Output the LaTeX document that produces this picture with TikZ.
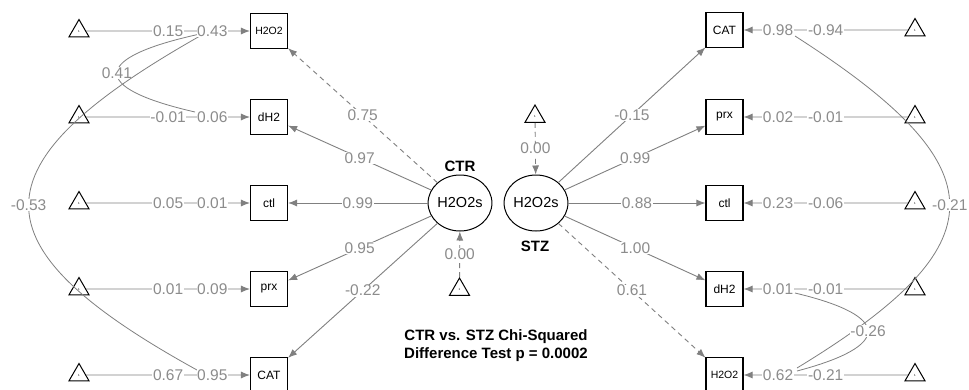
\documentclass[tikz,border=0pt]{standalone}
\usepackage{fontspec}
\setmainfont{Liberation Sans}
\usetikzlibrary{arrows.meta,shapes.geometric}
\definecolor{edgecol}{RGB}{128,128,128}
\definecolor{labcol}{RGB}{140,140,140}
\tikzset{
 box/.style={draw=black,line width=1.1pt,minimum width=37pt,minimum height=35pt,inner sep=0pt,font=\fontsize{12}{12}\selectfont},
 smallbox/.style={box,font=\fontsize{10.5}{10.5}\selectfont},
 latent/.style={draw=black,line width=1pt,ellipse,minimum width=60pt,minimum height=56pt,inner sep=0pt,font=\fontsize{14.5}{14.5}\selectfont},
 tri/.style={draw=black,line width=1pt,regular polygon,regular polygon sides=3,minimum size=23pt,inner sep=0pt,font=\fontsize{3}{3}\selectfont},
 lab/.style={fill=white,inner sep=0.6pt,text=labcol,font=\fontsize{15.5}{15.5}\selectfont},
 edgeline/.style={draw=edgecol,line width=0.9pt,-{Latex[length=9pt,width=7pt]}},
 dashedge/.style={edgeline,dash pattern=on 5pt off 4pt},
 cov/.style={draw=edgecol,line width=0.8pt},
 grp/.style={font=\bfseries\fontsize{15}{15}\selectfont}
}
\begin{document}
\begin{tikzpicture}[x=1pt,y=-1pt]
\useasboundingbox[fill=white] (0,0) rectangle (969,389);
% left side
\node[smallbox] (H2O2L) at (269,31) {H2O2};
\node[box] (dH2L) at (269,117) {dH2};
\node[box] (ctlL) at (269,203) {ctl};
\node[box] (prxL) at (269,289) {prx};
\node[box] (CATL) at (269,375) {CAT};
\foreach \i/\y in {1/31,2/117,3/203,4/289,5/375}{\node[tri] (tL\i) at (79,\y) {1};}
% right side
\node[box] (CATR) at (724.5,30) {CAT};
\node[box] (prxR) at (724.5,117) {prx};
\node[box] (ctlR) at (724.5,203) {ctl};
\node[box] (dH2R) at (724.5,289) {dH2};
\node[smallbox] (H2O2R) at (724.5,375) {H2O2};
\foreach \i/\y in {1/30,2/117,3/203,4/289,5/375}{\node[tri] (tR\i) at (915,\y) {1};}
% latent
\node[latent] (ctr) at (460,203) {H2O2s};
\node[latent] (stz) at (536,203) {H2O2s};
\node[tri] (tC) at (459.5,289.5) {1};
\node[tri] (tS) at (535,116.5) {1};
\node[grp] (ctrlab) at (460,166) {CTR};
\node[grp] (stzlab) at (535,246) {STZ};
\node[font=\bfseries\fontsize{15}{18}\selectfont,align=center] (note) at (496,346) {CTR vs. STZ Chi-Squared\\Difference Test p = 0.0002};
% covariance curves
\coordinate (a1) at (200,34);
\coordinate (a2) at (195,112);
\coordinate (b1) at (200,36);
\coordinate (b2) at (197,370);
\coordinate (c1) at (795,36);
\coordinate (c2) at (797,368);
\coordinate (d1) at (795,293);
\coordinate (d2) at (797,371);
\draw[cov] (a1) .. controls (90,58) and (90,88) .. node[midway,lab]{0.41} (a2);
\draw[cov] (b1) .. controls (-28,165) and (-28,246) .. node[midway,lab]{-0.53} (b2);
\draw[cov] (c1) .. controls (1001,168) and (1001,244) .. node[midway,lab]{-0.21} (c2);
\draw[cov] (d1) .. controls (892,316) and (892,346) .. node[midway,lab]{-0.26} (d2);
% intercept edges left
\draw[edgeline] (tL1) -- node[midway,lab]{0.15} node[pos=0.77,lab]{0.43} (H2O2L);
\draw[edgeline] (tL2) -- node[midway,lab]{-0.01} node[pos=0.77,lab]{0.06} (dH2L);
\draw[edgeline] (tL3) -- node[midway,lab]{0.05} node[pos=0.77,lab]{0.01} (ctlL);
\draw[edgeline] (tL4) -- node[midway,lab]{0.01} node[pos=0.77,lab]{0.09} (prxL);
\draw[edgeline] (tL5) -- node[midway,lab]{0.67} node[pos=0.77,lab]{0.95} (CATL);
% intercept edges right
\draw[edgeline] (tR1) -- node[midway,lab]{-0.94} node[pos=0.79,lab]{0.98} (CATR);
\draw[edgeline] (tR2) -- node[midway,lab]{-0.01} node[pos=0.79,lab]{0.02} (prxR);
\draw[edgeline] (tR3) -- node[midway,lab]{-0.06} node[pos=0.79,lab]{0.23} (ctlR);
\draw[edgeline] (tR4) -- node[midway,lab]{-0.01} node[pos=0.79,lab]{0.01} (dH2R);
\draw[edgeline] (tR5) -- node[midway,lab]{-0.21} node[pos=0.79,lab]{0.62} (H2O2R);
% loadings CTR
\draw[dashedge] (ctr) -- node[midway,lab]{0.75} (H2O2L);
\draw[edgeline] (ctr) -- node[midway,lab]{0.97} (dH2L);
\draw[edgeline] (ctr) -- node[midway,lab]{0.99} (ctlL);
\draw[edgeline] (ctr) -- node[midway,lab]{0.95} (prxL);
\draw[edgeline] (ctr) -- node[midway,lab]{-0.22} (CATL);
% loadings STZ
\draw[edgeline] (stz) -- node[midway,lab]{-0.15} (CATR);
\draw[edgeline] (stz) -- node[midway,lab]{0.99} (prxR);
\draw[edgeline] (stz) -- node[midway,lab]{0.88} (ctlR);
\draw[edgeline] (stz) -- node[midway,lab]{1.00} (dH2R);
\draw[dashedge] (stz) -- node[midway,lab]{0.61} (H2O2R);
% latent intercepts
\draw[dashedge] (tC) -- node[midway,lab]{0.00} (ctr);
\draw[dashedge] (tS) -- node[midway,lab]{0.00} (stz);
\end{tikzpicture}
\end{document}
